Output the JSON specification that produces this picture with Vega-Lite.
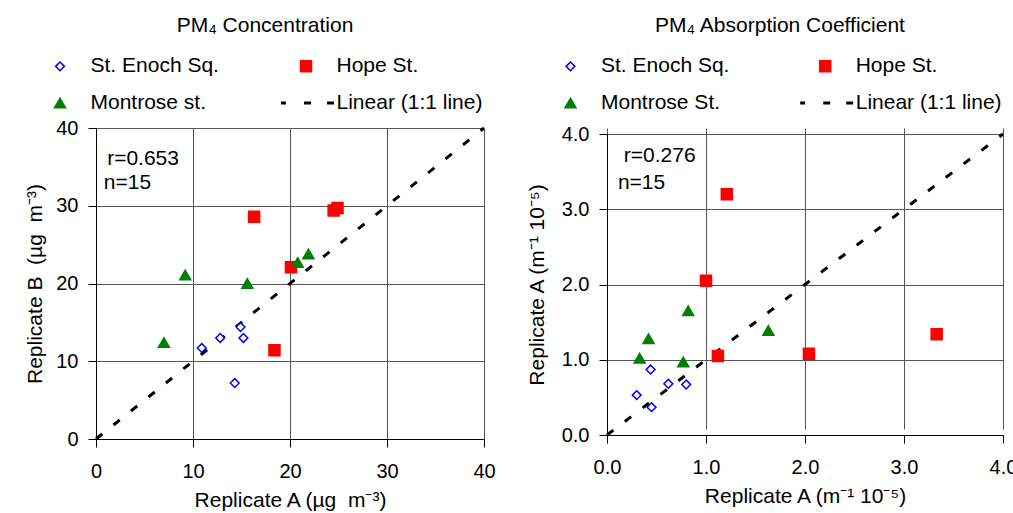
{
  "$schema": "https://vega.github.io/schema/vega-lite/v6.json",
  "background": "white",
  "padding": {"left": 24, "top": 14, "right": 5, "bottom": 2},
  "datasets": {
    "conc": [
      {"site": "St. Enoch Sq.", "a": 10.9, "b": 11.7},
      {"site": "St. Enoch Sq.", "a": 12.8, "b": 13.0},
      {"site": "St. Enoch Sq.", "a": 14.9, "b": 14.4},
      {"site": "St. Enoch Sq.", "a": 15.2, "b": 13.0},
      {"site": "St. Enoch Sq.", "a": 14.3, "b": 7.2},
      {"site": "Hope St.", "a": 16.3, "b": 28.6},
      {"site": "Hope St.", "a": 24.5, "b": 29.4},
      {"site": "Hope St.", "a": 24.9, "b": 29.7},
      {"site": "Hope St.", "a": 20.1, "b": 22.1},
      {"site": "Hope St.", "a": 18.4, "b": 11.4},
      {"site": "Montrose st.", "a": 7.0, "b": 12.4},
      {"site": "Montrose st.", "a": 9.2, "b": 21.1},
      {"site": "Montrose st.", "a": 15.6, "b": 20.0},
      {"site": "Montrose st.", "a": 20.8, "b": 22.7},
      {"site": "Montrose st.", "a": 21.9, "b": 23.8}
    ],
    "abs": [
      {"site": "St. Enoch Sq.", "a": 0.44, "b": 0.87},
      {"site": "St. Enoch Sq.", "a": 0.30, "b": 0.53},
      {"site": "St. Enoch Sq.", "a": 0.45, "b": 0.37},
      {"site": "St. Enoch Sq.", "a": 0.62, "b": 0.68},
      {"site": "St. Enoch Sq.", "a": 0.80, "b": 0.67},
      {"site": "Hope St.", "a": 1.21, "b": 3.20},
      {"site": "Hope St.", "a": 1.00, "b": 2.05},
      {"site": "Hope St.", "a": 1.12, "b": 1.05},
      {"site": "Hope St.", "a": 2.04, "b": 1.08},
      {"site": "Hope St.", "a": 3.33, "b": 1.34},
      {"site": "Montrose St.", "a": 0.42, "b": 1.28},
      {"site": "Montrose St.", "a": 0.33, "b": 1.02},
      {"site": "Montrose St.", "a": 0.82, "b": 1.65},
      {"site": "Montrose St.", "a": 0.77, "b": 0.97},
      {"site": "Montrose St.", "a": 1.63, "b": 1.39}
    ],
    "conc_line": [{"a": 0, "b": 0}, {"a": 40, "b": 40}],
    "abs_line": [{"a": 0, "b": 0}, {"a": 4, "b": 4}],
    "conc_notes": [{"note": "r=0.653", "a": 1.15, "b": 36.0}, {"note": "n=15", "a": 0.8, "b": 32.9}],
    "abs_notes": [{"note": "r=0.276", "a": 0.17, "b": 3.71}, {"note": "n=15", "a": 0.11, "b": 3.35}]
  },
  "hconcat": [
    {
      "width": 388,
      "height": 311,
      "view": {"stroke": null},
      "title": {"text": "PM₄ Concentration", "dx": -25, "offset": 20},
      "layer": [
        {
          "data": {"name": "conc_line"},
          "mark": {"type": "line", "color": "black", "strokeWidth": 3, "strokeDash": [8, 14.4]},
          "encoding": {
            "x": {"field": "a", "type": "quantitative", "scale": {"domain": [0, 40], "nice": false}, "axis": {"values": [0, 10, 20, 30, 40], "title": "Replicate A (µg\u00a0 m⁻³)"}},
            "y": {"field": "b", "type": "quantitative", "scale": {"domain": [0, 40], "nice": false}, "axis": {"values": [0, 10, 20, 30, 40], "title": "Replicate B\u00a0 (µg\u00a0 m⁻³)"}}
          }
        },
        {
          "data": {"name": "conc"},
          "mark": {"type": "point", "filled": true, "size": 121, "strokeWidth": 1.5, "opacity": 1},
          "encoding": {
            "x": {"field": "a", "type": "quantitative"},
            "y": {"field": "b", "type": "quantitative"},
            "shape": {"field": "site", "type": "nominal", "scale": {"domain": ["St. Enoch Sq.", "Montrose st.", "Hope St.", "Linear (1:1 line)"], "range": ["M-0.8,0L0,-0.8L0.8,0L0,0.8Z", "triangle-up", "square", "M-4.55,-0.27H-3.64V0.27H-4.55Z M-0.36,-0.27H0.91V0.27H-0.36Z M3.82,-0.27H5.09V0.27H3.82Z"]},
              "legend": {"title": null, "orient": "none", "legendX": -46.5, "legendY": -72.4, "columns": 2, "columnPadding": 58, "rowPadding": 15, "labelOffset": 20}},
            "fill": {"field": "site", "type": "nominal", "scale": {"domain": ["St. Enoch Sq.", "Montrose st.", "Hope St.", "Linear (1:1 line)"], "range": ["#FFFFFF", "#008000", "#FF0000", "#000000"]},
              "legend": {"title": null, "orient": "none", "legendX": -46.5, "legendY": -72.4, "columns": 2, "columnPadding": 58, "rowPadding": 15, "labelOffset": 20}},
            "stroke": {"field": "site", "type": "nominal", "scale": {"domain": ["St. Enoch Sq.", "Montrose st.", "Hope St.", "Linear (1:1 line)"], "range": ["#0000FF", "#008000", "#FF0000", "transparent"]},
              "legend": {"title": null, "orient": "none", "legendX": -46.5, "legendY": -72.4, "columns": 2, "columnPadding": 58, "rowPadding": 15, "labelOffset": 20}}
          }
        },
        {
          "data": {"name": "conc_notes"},
          "mark": {"type": "text", "align": "left", "baseline": "middle", "fontSize": 21, "color": "black"},
          "encoding": {
            "x": {"field": "a", "type": "quantitative"},
            "y": {"field": "b", "type": "quantitative"},
            "text": {"field": "note"}
          }
        }
      ]
    },
    {
      "width": 396,
      "height": 307,
      "view": {"stroke": null},
      "title": {"text": "PM₄ Absorption Coefficient", "dx": -25, "offset": 20},
      "layer": [
        {
          "data": {"name": "abs_line"},
          "mark": {"type": "line", "color": "black", "strokeWidth": 3, "strokeDash": [8, 14.4]},
          "encoding": {
            "x": {"field": "a", "type": "quantitative", "scale": {"domain": [0, 4], "nice": false}, "axis": {"values": [0, 1, 2, 3, 4], "format": ".1f", "title": "Replicate A (m⁻¹ 10⁻⁵)"}},
            "y": {"field": "b", "type": "quantitative", "scale": {"domain": [0, 4], "nice": false, "range": [307, 6]}, "axis": {"values": [0, 1, 2, 3, 4], "format": ".1f", "title": "Replicate A (m⁻¹ 10⁻⁵)", "titlePadding": 14}}
          }
        },
        {
          "data": {"name": "abs"},
          "mark": {"type": "point", "filled": true, "size": 121, "strokeWidth": 1.5, "opacity": 1},
          "encoding": {
            "x": {"field": "a", "type": "quantitative"},
            "y": {"field": "b", "type": "quantitative"},
            "shape": {"field": "site", "type": "nominal", "scale": {"domain": ["St. Enoch Sq.", "Montrose St.", "Hope St.", "Linear (1:1 line)"], "range": ["M-0.8,0L0,-0.8L0.8,0L0,0.8Z", "triangle-up", "square", "M-4.55,-0.27H-3.64V0.27H-4.55Z M-0.36,-0.27H0.91V0.27H-0.36Z M3.82,-0.27H5.09V0.27H3.82Z"]},
              "legend": {"title": null, "orient": "none", "legendX": -47, "legendY": -72.4, "columns": 2, "columnPadding": 66.7, "rowPadding": 15, "labelOffset": 20}},
            "fill": {"field": "site", "type": "nominal", "scale": {"domain": ["St. Enoch Sq.", "Montrose St.", "Hope St.", "Linear (1:1 line)"], "range": ["#FFFFFF", "#008000", "#FF0000", "#000000"]},
              "legend": {"title": null, "orient": "none", "legendX": -47, "legendY": -72.4, "columns": 2, "columnPadding": 66.7, "rowPadding": 15, "labelOffset": 20}},
            "stroke": {"field": "site", "type": "nominal", "scale": {"domain": ["St. Enoch Sq.", "Montrose St.", "Hope St.", "Linear (1:1 line)"], "range": ["#0000FF", "#008000", "#FF0000", "transparent"]},
              "legend": {"title": null, "orient": "none", "legendX": -47, "legendY": -72.4, "columns": 2, "columnPadding": 66.7, "rowPadding": 15, "labelOffset": 20}}
          }
        },
        {
          "data": {"name": "abs_notes"},
          "mark": {"type": "text", "align": "left", "baseline": "middle", "fontSize": 21, "color": "black"},
          "encoding": {
            "x": {"field": "a", "type": "quantitative"},
            "y": {"field": "b", "type": "quantitative"},
            "text": {"field": "note"}
          }
        }
      ]
    }
  ],
  "spacing": 30,
  "resolve": {
    "scale": {"shape": "independent", "fill": "independent", "stroke": "independent"},
    "legend": {"shape": "independent", "fill": "independent", "stroke": "independent"}
  },
  "config": {
    "font": "Liberation Sans",
    "axis": {
      "labelFontSize": 20, "titleFontSize": 21, "titleFontWeight": "normal",
      "labelColor": "black", "titleColor": "black", "domainColor": "black", "tickColor": "black",
      "gridColor": "#555555", "gridOpacity": 1, "tickSize": 8, "labelPadding": 10, "titlePadding": 10,
      "labelFont": "Liberation Sans", "titleFont": "Liberation Sans", "labelFlush": false, "labelOverlap": false
    },
    "axisX": {"labelPadding": 14, "titlePadding": 8},
    "title": {"fontSize": 21, "fontWeight": "normal", "color": "black", "font": "Liberation Sans", "anchor": "middle"},
    "legend": {"labelFontSize": 21, "labelColor": "black", "labelFont": "Liberation Sans", "symbolStrokeWidth": 1.5, "symbolSize": 121, "padding": 0, "labelLimit": 300}
  }
}
